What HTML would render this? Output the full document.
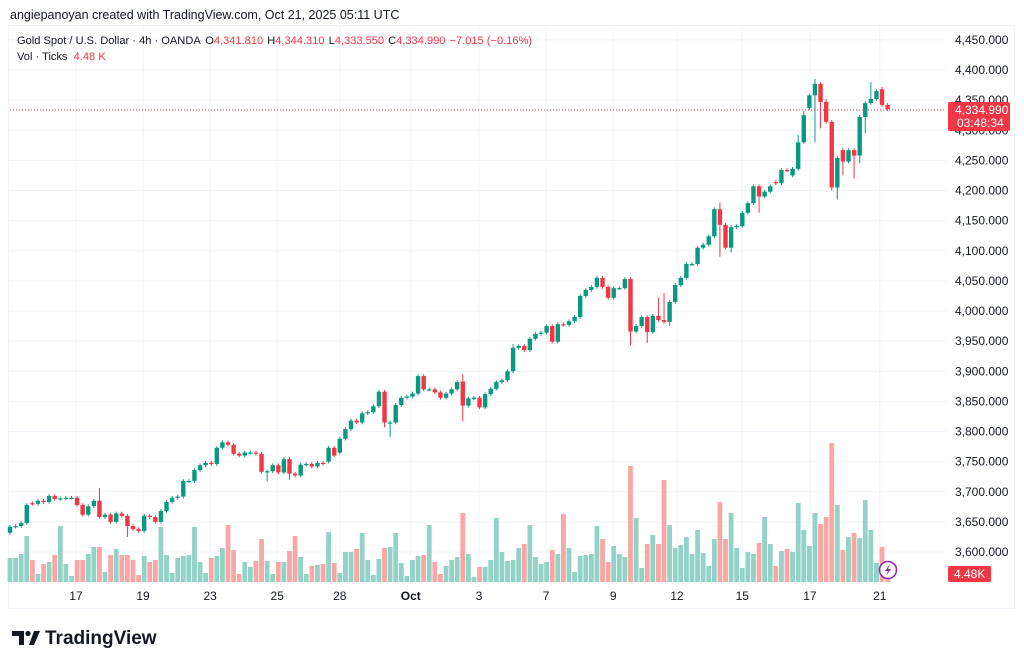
<!DOCTYPE html>
<html><head><meta charset="utf-8"><style>
html,body{margin:0;padding:0;background:#fff;width:1024px;height:665px;overflow:hidden}
svg{display:block;font-family:"Liberation Sans",sans-serif}
</style></head><body>
<svg id="chart" width="1024" height="665" viewBox="0 0 1024 665">
<text x="10" y="19" font-size="12.5" fill="#131722">angiepanoyan created with TradingView.com, Oct 21, 2025 05:11 UTC</text>
<rect x="8.5" y="25.5" width="1006" height="583" fill="none" stroke="#f0f3fa"/>
<g id="grid"></g>
<g id="vol"></g>
<g id="candles"></g>
<g id="yaxis"></g>
<g id="xaxis"></g>
<g font-size="11.1" fill="#131722">
<text x="17" y="44">Gold Spot / U.S. Dollar · 4h · OANDA <tspan dx="2">O</tspan><tspan fill="#f23645">4,341.810</tspan><tspan dx="4">H</tspan><tspan fill="#f23645">4,344.310</tspan><tspan dx="4">L</tspan><tspan fill="#f23645">4,333.550</tspan><tspan dx="4">C</tspan><tspan fill="#f23645">4,334.990</tspan><tspan dx="4" fill="#f23645">−7.015 (−0.16%)</tspan></text>
<text x="17" y="60">Vol · Ticks <tspan dx="3" fill="#f23645">4.48 K</tspan></text>
</g>
<line x1="10" x2="946" y1="110" y2="110" stroke="#f23645" stroke-width="1" stroke-dasharray="1,2"/>
<g>
<rect x="948" y="102" width="62" height="29" rx="2" fill="#f23645"/>
<text x="955" y="114" font-size="12" fill="#fff">4,334.990</text>
<text x="957" y="127" font-size="12" fill="#fff">03:48:34</text>
</g>
<g>
<rect x="948" y="566" width="43" height="16" rx="2" fill="#f23645"/>
<text x="954" y="578" font-size="12" fill="#fff">4.48K</text>
</g>
<g>
<circle cx="888" cy="570" r="8.5" fill="#fff" stroke="#9c27b0" stroke-width="1.6"/>
<path d="M890 564 L885 571 L888 571 L886 576 L891 569 L888 569 Z" fill="#9c27b0"/>
</g>
<g>
<path d="M12 631 h12 v14 h-5 v-9 h-7 z M29 645 l5 -14 h6 l-6 14 z" fill="#131722"/>
<circle cx="28" cy="633.5" r="2.6" fill="#131722"/>
<text x="45" y="644" font-size="19" font-weight="bold" fill="#131722">TradingView</text>
</g>
</svg>
<script>
const closes=[3642,3643,3648,3678,3680,3685,3683,3693,3688,3689,3690,3690,3678,3662,3676,3685,3658,3662,3650,3664,3660,3643,3638,3635,3660,3658,3650,3668,3683,3690,3692,3718,3718,3736,3744,3748,3746,3773,3782,3778,3763,3760,3765,3765,3763,3733,3734,3744,3732,3754,3730,3727,3745,3746,3742,3748,3747,3773,3760,3788,3804,3818,3815,3830,3832,3842,3866,3815,3815,3844,3856,3858,3863,3892,3870,3870,3865,3856,3863,3870,3882,3843,3855,3856,3840,3862,3871,3882,3885,3900,3939,3942,3935,3954,3962,3964,3975,3949,3978,3977,3983,3990,4025,4035,4040,4055,4040,4022,4038,4038,4053,3966,3975,3990,3965,3992,3985,3982,4015,4043,4055,4078,4078,4105,4110,4124,4169,4143,4105,4139,4141,4163,4179,4207,4190,4198,4207,4212,4234,4233,4236,4280,4325,4358,4377,4347,4314,4205,4254,4248,4267,4258,4322,4345,4352,4365,4342,4335];
const opens=[3632,3642,3643,3648,3681,3680,3685,3683,3693,3688,3689,3690,3690,3678,3662,3676,3685,3658,3662,3650,3664,3660,3643,3638,3635,3660,3658,3650,3668,3683,3690,3692,3718,3718,3736,3744,3748,3746,3773,3782,3778,3763,3760,3765,3765,3763,3733,3734,3744,3732,3754,3730,3727,3745,3746,3742,3748,3750,3773,3765,3788,3804,3818,3815,3830,3832,3842,3866,3815,3815,3844,3856,3858,3863,3892,3870,3870,3865,3856,3863,3870,3883,3843,3855,3856,3840,3862,3871,3882,3885,3900,3939,3942,3935,3954,3962,3964,3975,3949,3978,3977,3983,3990,4025,4035,4040,4055,4040,4022,4038,4038,4053,3966,3975,3990,3965,3992,3985,3982,4015,4043,4055,4078,4078,4105,4110,4124,4169,4143,4105,4139,4141,4163,4179,4207,4190,4198,4214,4212,4234,4225,4236,4280,4337,4358,4377,4347,4314,4205,4267,4248,4267,4258,4322,4345,4352,4368,4342];
const highOverrides={16:3706,81:3895,90:3945,116:4022,117:4030,127:4180,141:4292,142:4332,144:4385,146:4352,154:4380,156:4372};
const lowOverrides={21:3625,46:3717,50:3720,67:3807,68:3791,81:3817,111:3943,114:3947,118:3975,127:4090,129:4097,134:4163,144:4280,145:4303,147:4200,148:4185,149:4225,151:4220,152:4245,153:4295};
const volumes=[24,24,28,46,22,8,18,20,27,56,18,6,22,22,28,35,35,10,27,33,27,27,22,7,26,20,22,55,27,9,24,26,27,55,20,9,24,26,34,57,32,8,20,15,21,43,21,8,20,20,31,46,25,8,16,17,18,50,19,9,30,30,33,49,22,7,23,34,35,49,19,6,22,26,27,57,20,8,16,22,25,69,28,5,15,15,22,64,30,21,22,34,38,57,25,18,20,32,28,68,34,10,26,27,28,56,43,20,36,28,25,116,64,14,38,47,38,102,57,34,37,45,28,52,29,16,43,80,43,69,34,14,30,28,39,65,38,16,31,33,30,79,52,36,69,58,65,139,77,32,45,49,44,82,52,19,35,5];
const priceTicks=[4450,4400,4350,4300,4250,4200,4150,4100,4050,4000,3950,3900,3850,3800,3750,3700,3650,3600];
const timeLabels=["17","19","23","25","28","Oct","3","7","9","12","15","17","21"];
const timeIdx=[11.8,23.8,35.8,47.8,59,71.7,83.9,95.9,107.9,119.3,131,143.1,155.6];

const NS="http://www.w3.org/2000/svg";
const X0=10,STEP=5.59,VBASE=582,VSCALE=1.0;
const xs=i=>X0+i*STEP;
const ys=p=>70+(4400-p)*0.6025;
const vh=v=>v*VSCALE;
function mk(tag,attrs,parent){const e=document.createElementNS(NS,tag);for(const k in attrs)e.setAttribute(k,attrs[k]);parent.appendChild(e);return e;}
const G=document.getElementById('grid'),V=document.getElementById('vol'),C=document.getElementById('candles'),YA=document.getElementById('yaxis'),XA=document.getElementById('xaxis');

priceTicks.forEach((p)=>{
  const l=mk('line',{x1:9,x2:946,y1:ys(p),y2:ys(p),stroke:'#f0f3fa'},G);
  
  
  const t=mk('text',{x:955,y:ys(p)+4,'font-size':12,fill:'#131722'},YA);
  t.textContent=p.toLocaleString('en-US')+'.000';
  
  
});
timeLabels.forEach((lab,k)=>{
  const x=xs(timeIdx[k]);
  const l=mk('line',{x1:x,x2:x,y1:26,y2:583,stroke:'#f0f3fa'},G);
  
  
  const t=mk('text',{x:x,y:600,'font-size':12,fill:'#131722','text-anchor':'middle','font-weight':lab==='Oct'?'bold':'normal'},XA);
  t.textContent=lab;
  
  
});
volumes.forEach((v,i)=>{
  const up=closes[i]>=opens[i];
  const r=mk('rect',{x:xs(i)-2.4,y:VBASE-vh(v),width:4.8,height:vh(v),fill:up?'#92d2c7':'#f7a8a6'},V);
  
  
});
closes.forEach((c,i)=>{
  const o=opens[i],up=c>=o,col=up?'#089981':'#f23645';
  const hi=highOverrides[i]!==undefined?highOverrides[i]:Math.max(o,c)+3;
  const lo=lowOverrides[i]!==undefined?lowOverrides[i]:Math.min(o,c)-3;
  const g=mk('g',{},C);
  
  
  mk('line',{x1:xs(i),x2:xs(i),y1:ys(hi),y2:ys(lo),stroke:col,'stroke-width':1},g);
  const top=ys(Math.max(o,c)),h=Math.max(1.2,Math.abs(ys(o)-ys(c)));
  mk('rect',{x:xs(i)-2.2,y:top,width:4.4,height:h,fill:col},g);
});
</script>
</body></html>
